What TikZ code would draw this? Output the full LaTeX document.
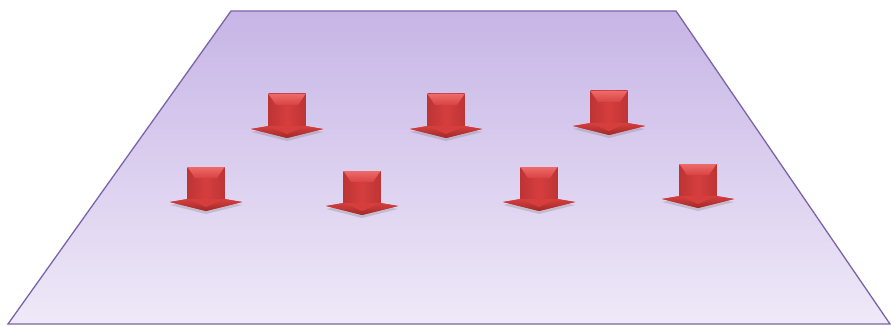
\documentclass[tikz,border=0pt]{standalone}
\usepackage{xcolor}
\usepackage{tikz}
\usetikzlibrary{shadows,calc}
\definecolor{floorTop}{HTML}{C7B5E6}
\definecolor{floorBot}{HTML}{EFE9F8}
\definecolor{floorEdge}{HTML}{7A64A8}
\definecolor{arrRed}{HTML}{D63E3E}
\definecolor{arrDark}{HTML}{A02828}
\definecolor{arrLight}{HTML}{EE6A6A}
\tikzset{
  floor/.style={draw=floorEdge, line width=1.3pt, top color=floorTop,
        bottom color=floorBot},
  shaft/.style={left color=arrRed!55!arrDark, right color=arrRed!55!arrDark,
        middle color=arrRed, draw=none},
  bevel/.style={top color=arrLight, bottom color=arrRed!90!arrLight, draw=none},
  head/.style={top color=arrRed, bottom color=arrDark, draw=none},
  downarrow/.style={fill=arrRed, draw=none,
        drop shadow={opacity=0.3, shadow xshift=0pt, shadow yshift=-3pt}}
}
\begin{document}
\begin{tikzpicture}[x=1pt, y=-1pt]
\useasboundingbox (0,0) rectangle (891,326);
% floor plane
\path[floor] (231,11) -- (676,11) -- (890,324) -- (8,324) -- cycle;

% arrows: top centre of shaft
\foreach \ax/\ay in {287/94, 446/94, 609/91, 206/167, 362/171, 539/167, 698/164}{
  \begin{scope}[shift={(\ax,\ay)}]
    % outline with shadow
    \path[downarrow] (-18.5,0) -- (18.5,0) -- (18.5,32) -- (36,35) -- (0,44)
       -- (-36,35) -- (-18.5,32) -- cycle;
    % shaft
    \path[shaft] (-18.5,0) rectangle (18.5,33);
    % top bevel
    \path[bevel] (-18.5,0) -- (18.5,0) -- (11,11) -- (-11,11) -- cycle;
    % head
    \path[head] (-18.5,32) -- (18.5,32) -- (36,35) -- (0,44) -- (-36,35) -- cycle;
    \path[fill=arrRed] (-16,33) -- (16,33) -- (0,40) -- cycle;
  \end{scope}
}
\end{tikzpicture}
\end{document}
